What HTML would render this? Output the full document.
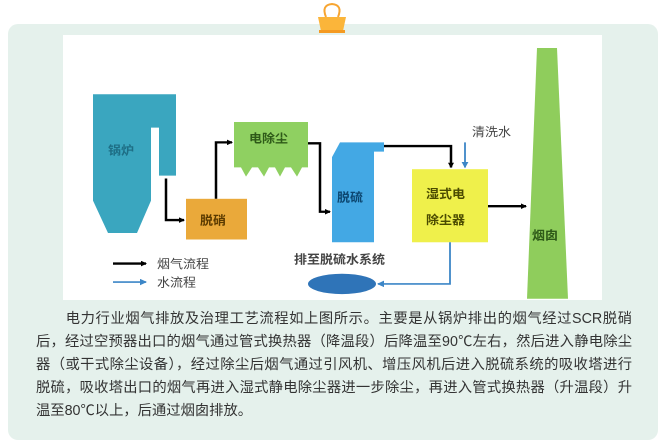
<!DOCTYPE html>
<html><head><meta charset="utf-8"><style>
body{margin:0;width:668px;height:448px;background:#fff;position:relative;overflow:hidden;font-family:"Liberation Sans","Noto Sans CJK SC",sans-serif}
.panel{position:absolute;left:8px;top:24px;width:650px;height:416px;background:#e5f1ec;border-radius:10px}
.txt{position:absolute;left:36px;top:308px;width:596px;font-size:14.3px;color:#333;line-height:23px}
.txt div{text-align:justify;text-align-last:justify;white-space:nowrap}
.txt div.l{text-align-last:left}
</style></head><body>
<div class="panel"></div>
<svg style="position:absolute;left:0;top:0" width="668" height="448" font-family="Liberation Sans, Noto Sans CJK SC, sans-serif">
<path d="M326 17 Q321 5 332 4 Q343 5 338 17" fill="none" stroke="#f7a531" stroke-width="2"/>
<path d="M318 17 L346 17 L343 31 L321 31 Z" fill="#fbb53a"/>
<rect x="319" y="30" width="26" height="3" fill="#f49a22"/>
<rect x="63" y="35" width="539" height="265" fill="#fff"/>
<defs>
<marker id="ak" markerWidth="6" markerHeight="6" refX="5" refY="3" orient="auto" markerUnits="userSpaceOnUse"><path d="M0 0L6 3L0 6Z" fill="#000"/></marker>
<marker id="ab" markerWidth="7" markerHeight="7" refX="6" refY="3.5" orient="auto" markerUnits="userSpaceOnUse"><path d="M0 0L7 3.5L0 7Z" fill="#3c86c7"/></marker>
</defs>
<g transform="translate(0,36) scale(1,0.925) translate(0,-36)">
<path d="M93 99 L176 99 L176 187 L159 187 L159 135 L151 135 L151 214 L137 249 L108 249 L93 214 Z" fill="#3aa6bf"/>
<text x="108" y="164" font-size="13" font-weight="bold" fill="#1e6e85">锅炉</text>
<rect x="186" y="212" width="61" height="44" fill="#eaa93a"/>
<text x="200" y="240" font-size="13" font-weight="bold" fill="#5a3a00">脱硝</text>
<path d="M234 129 L308 129 L308 178 L302 178 L297 188 L291 178 L285 178 L280 188 L275 178 L269 178 L264 188 L258 178 L252 178 L246 188 L241 178 L234 178 Z" fill="#8fd061"/>
<text x="249" y="151" font-size="13" font-weight="bold" fill="#2e5a18">电除尘</text>
<path d="M332 167 L340 151 L384 151 L384 161 L374 161 L374 259 L332 259 Z" fill="#43a8e4"/>
<text x="337" y="215" font-size="13" font-weight="bold" fill="#0c4670">脱硫</text>
<rect x="412" y="180" width="76" height="79" fill="#eff04b"/>
<text x="426" y="211" font-size="13" font-weight="bold" fill="#4a4a00">湿式电</text>
<text x="426" y="239" font-size="13" font-weight="bold" fill="#4a4a00">除尘器</text>
<path d="M537 49 L557 49 L568 320 L527 320 Z" fill="#8fcd5c"/>
<text x="532" y="256" font-size="13" font-weight="bold" fill="#2e5a18">烟囱</text>
<ellipse cx="342" cy="304" rx="34" ry="11" fill="#2f74b8"/>
<g stroke="#000" stroke-width="2.5" fill="none">
<path d="M166 190 L166 235 L184 235" marker-end="url(#ak)"/>
<path d="M216 212 L216 151 L232 151" marker-end="url(#ak)"/>
<path d="M308 152 L320 152 L320 226 L330 226" marker-end="url(#ak)"/>
<path d="M384 155 L451 155 L451 178" marker-end="url(#ak)"/>
<path d="M488 220 L526 220" marker-end="url(#ak)"/>
<path d="M113 282 L146 282" marker-end="url(#ak)"/>
</g>
<g stroke="#3c86c7" stroke-width="1.8" fill="none">
<path d="M465 151 L465 178" marker-end="url(#ab)"/>
<path d="M450 259 L450 304 L378 304" marker-end="url(#ab)"/>
<path d="M113 302 L146 302" marker-end="url(#ab)"/>
</g>
<text x="472" y="144" font-size="13" fill="#444">清洗水</text>
<text x="294" y="282" font-size="13" font-weight="bold" fill="#444">排至脱硫水系统</text>
<text x="157" y="287" font-size="13" fill="#444">烟气流程</text>
<text x="157" y="307" font-size="13" fill="#444">水流程</text>
</g>
</svg>
<div class="txt">
<div>　　电力行业烟气排放及治理工艺流程如上图所示。主要是从锅炉排出的烟气经过SCR脱硝</div>
<div>后，经过空预器出口的烟气通过管式换热器（降温段）后降温至90℃左右，然后进入静电除尘</div>
<div>器（或干式除尘设备），经过除尘后烟气通过引风机、增压风机后进入脱硫系统的吸收塔进行</div>
<div>脱硫，吸收塔出口的烟气再进入湿式静电除尘器进一步除尘，再进入管式换热器（升温段）升</div>
<div class="l">温至80℃以上，后通过烟囱排放。</div>
</div>
</body></html>
